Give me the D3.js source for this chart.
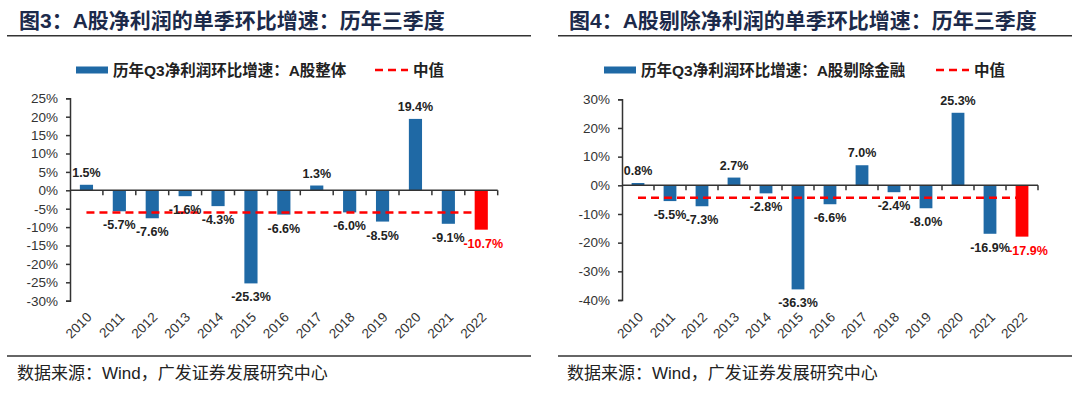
<!DOCTYPE html>
<html><head><meta charset="utf-8">
<script src="https://cdn.jsdelivr.net/npm/d3@7"></script>
<style>
html,body{margin:0;padding:0;background:#fff;}
svg{display:block;}
</style>
</head><body>
<svg id="c" width="1080" height="396"></svg>
<script>
const years = ["2010","2011","2012","2013","2014","2015","2016","2017","2018","2019","2020","2021","2022"];
const valuesAll = [1.5,-5.7,-7.6,-1.6,-4.3,-25.3,-6.6,1.3,-6.0,-8.5,19.4,-9.1,-10.7];
const medianAll = -6.0;
const valuesExFin = [0.8,-5.5,-7.3,2.7,-2.8,-36.3,-6.6,7.0,-2.4,-8.0,25.3,-16.9,-17.9];
const medianExFin = -4.3;
const ticksAll = [25,20,15,10,5,0,-5,-10,-15,-20,-25,-30];
const ticksExFin = [30,20,10,0,-10,-20,-30,-40];
const titles = ["图3：A股净利润的单季环比增速：历年三季度","图4：A股剔除净利润的单季环比增速：历年三季度"];
const legendBar = ["历年Q3净利润环比增速：A股整体","历年Q3净利润环比增速：A股剔除金融"];
const legendLine = "中值";
const source = "数据来源：Wind，广发证券发展研究中心";

const svg = d3.select("#c");
const BLUE = "#1f69a5", RED = "#ff0000", NAVY = "#1c2a4a";
const CJK = "'Liberation Sans','Noto Sans CJK SC',sans-serif";

function drawChart(cfg){
  const g = svg.append("g");
  // title
  g.append("text").attr("x", cfg.titleX).attr("y", 28)
    .attr("font-family", CJK).attr("font-weight", "bold").attr("font-size", 21)
    .attr("fill", NAVY).text(cfg.title);
  g.append("line").attr("x1", cfg.ruleX[0]).attr("x2", cfg.ruleX[1]).attr("y1", 35.7).attr("y2", 35.7)
    .attr("stroke", "#333").attr("stroke-width", 1.6);
  // footer
  g.append("line").attr("x1", cfg.ruleX[0]).attr("x2", cfg.ruleX[1]).attr("y1", 356).attr("y2", 356)
    .attr("stroke", "#333").attr("stroke-width", 1.4);
  g.append("text").attr("x", cfg.srcX).attr("y", 379)
    .attr("font-family", CJK).attr("font-size", 17).attr("fill", "#222").text(source);

  // legend
  const lg = g.append("g");
  lg.append("rect").attr("x", cfg.legX).attr("y", 66.5).attr("width", 32).attr("height", 7).attr("fill", BLUE);
  lg.append("text").attr("x", cfg.legX + 37).attr("y", 75.5)
    .attr("font-family", CJK).attr("font-weight", "bold").attr("font-size", 15.5).attr("fill", "#222")
    .text(cfg.legendBar);
  lg.append("line").attr("x1", cfg.legLineX).attr("x2", cfg.legLineX + 33).attr("y1", 70).attr("y2", 70)
    .attr("stroke", RED).attr("stroke-width", 2.5).attr("stroke-dasharray", "8,5");
  lg.append("text").attr("x", cfg.legLineX + 38).attr("y", 75.5)
    .attr("font-family", CJK).attr("font-weight", "bold").attr("font-size", 15.5).attr("fill", "#222")
    .text(legendLine);

  const x = d3.scaleBand().domain(years).range(cfg.xRange).paddingInner(0.6).paddingOuter(0.3);
  const y = d3.scaleLinear().domain(cfg.yDomain).range(cfg.yRange);
  const step = x.step();

  // y axis
  const ya = g.append("g").attr("transform", `translate(${cfg.xRange[0]},0)`)
    .call(d3.axisLeft(y).tickValues(cfg.ticks).tickFormat(d => d + "%").tickSize(4).tickPadding(8));
  ya.select(".domain").attr("stroke", "#333").attr("stroke-width", 1.5);
  ya.selectAll(".tick line").attr("stroke", "#333").attr("stroke-width", 1.5);
  ya.selectAll(".tick text").attr("font-family", "'Liberation Sans',Arial,sans-serif").attr("font-size", 13.5).attr("fill", "#333");

  // bars
  g.selectAll("rect.bar").data(cfg.values).enter().append("rect")
    .attr("x", (d,i) => x(years[i]))
    .attr("width", x.bandwidth())
    .attr("y", d => y(Math.max(0, d)))
    .attr("height", d => Math.abs(y(d) - y(0)))
    .attr("fill", (d,i) => i === years.length - 1 ? RED : BLUE);

  // x axis line at 0
  g.append("line").attr("x1", cfg.xRange[0]).attr("x2", cfg.xRange[1]).attr("y1", y(0)).attr("y2", y(0))
    .attr("stroke", "#333").attr("stroke-width", 1.5);
  const bounds = d3.range(years.length + 1).map(i => cfg.xRange[0] + i * step);
  g.selectAll("line.xt").data(bounds.slice(1)).enter().append("line")
    .attr("x1", d => d).attr("x2", d => d).attr("y1", y(0)).attr("y2", y(0) + 5)
    .attr("stroke", "#333").attr("stroke-width", 1.5);

  // median line
  const line = d3.line().x(d => x(d) + x.bandwidth()/2).y(() => y(cfg.median));
  g.append("path").datum(years).attr("d", line).attr("fill", "none")
    .attr("stroke", RED).attr("stroke-width", 2.5).attr("stroke-dasharray", "8,5");

  // data labels
  g.selectAll("text.lab").data(cfg.values).enter().append("text")
    .attr("x", (d,i) => x(years[i]) + x.bandwidth()/2 + (i === years.length - 1 ? cfg.lastShift : 0))
    .attr("y", d => d >= 0 ? y(d) - 8 : y(d) + 18)
    .attr("text-anchor", "middle")
    .attr("font-family", "'Liberation Sans',Arial,sans-serif").attr("font-weight", "bold").attr("font-size", 12.5)
    .attr("fill", (d,i) => i === years.length - 1 ? RED : "#222")
    .text(d => d.toFixed(1) + "%");

  // x labels
  g.selectAll("text.xl").data(years).enter().append("text")
    .attr("transform", d => `translate(${x(d) + x.bandwidth()/2 + 6},${cfg.xLabY}) rotate(-45)`)
    .attr("text-anchor", "end")
    .attr("font-family", "'Liberation Sans',Arial,sans-serif").attr("font-size", 13.5).attr("fill", "#333")
    .text(d => d);
}

drawChart({
  title: titles[0], titleX: 19, ruleX: [7, 531], srcX: 17,
  legendBar: legendBar[0], legX: 76, legLineX: 375,
  xRange: [70, 497.7], yDomain: [-30, 25], yRange: [300.7, 98.3], ticks: ticksAll,
  values: valuesAll, median: medianAll, xLabY: 318, lastShift: 2
});
drawChart({
  title: titles[1], titleX: 569, ruleX: [558, 1072], srcX: 567,
  legendBar: legendBar[1], legX: 604, legLineX: 936,
  xRange: [622, 1038], yDomain: [-40, 30], yRange: [300, 99.3], ticks: ticksExFin,
  values: valuesExFin, median: medianExFin, xLabY: 318, lastShift: 6
});
</script>
</body></html>
